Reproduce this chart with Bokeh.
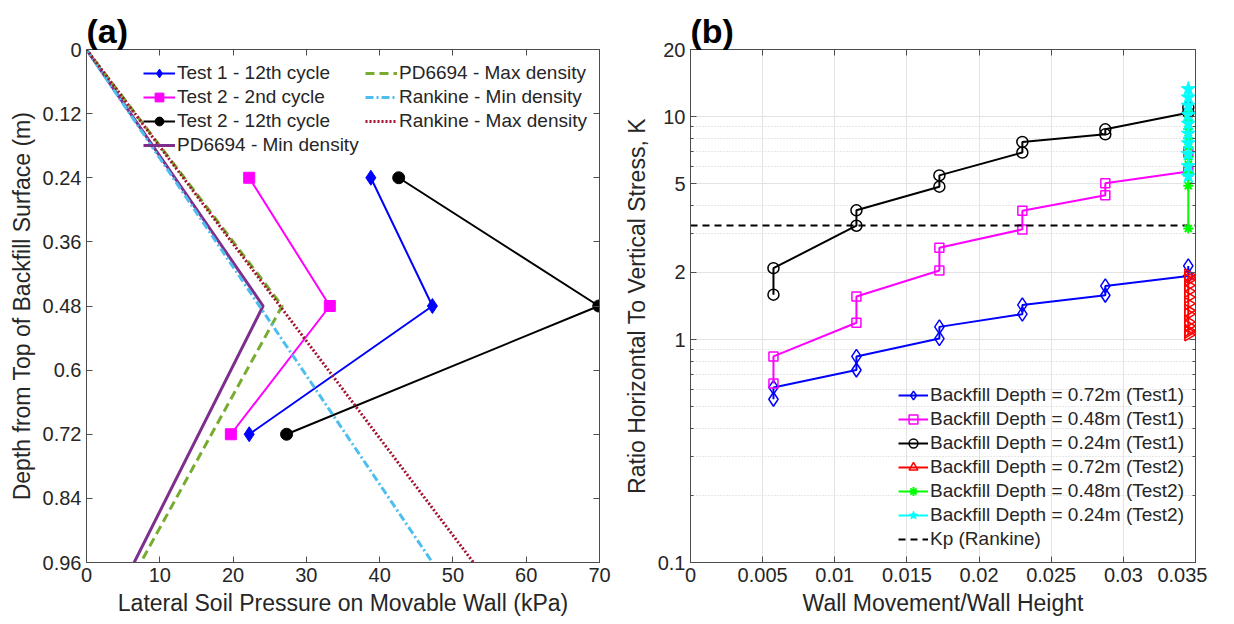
import numpy as np
from bokeh.plotting import figure
from bokeh.models import (Range1d, FixedTicker, PrintfTickFormatter, LinearAxis,
                          LogAxis, Legend, LegendItem)
from bokeh.layouts import row
from bokeh.embed import file_html
from bokeh.resources import INLINE

FONT = "Liberation Sans"
TXT = "#262626"
AX = "#4d4d4d"

# ---------------- Panel (a) data ----------------
depth_tests = [0.24, 0.48, 0.72]
t1_c12 = [38.8, 47.2, 22.2]
t2_c2 = [22.2, 33.2, 19.7]
t2_c12 = [42.6, 69.9, 27.3]
pd_depth = [0.0, 0.48, 0.96]
pd_min = [0.0, 24.1, 6.5]
pd_max = [0.0, 26.7, 7.4]
rk_depth = [0.0, 0.96]
rk_min = [0.0, 47.2]
rk_max = [0.0, 52.8]
a_xticks = [0, 10, 20, 30, 40, 50, 60, 70]
a_yticks = [0, 0.12, 0.24, 0.36, 0.48, 0.6, 0.72, 0.84, 0.96]

# ---------------- Panel (b) data ----------------
disp = [0.00575, 0.0115, 0.01725, 0.023, 0.02875, 0.0345]
step_x = [d for d in disp for _ in range(2)]
k_072_t1 = [0.54, 0.61, 0.73, 0.84, 1.01, 1.14, 1.30, 1.43, 1.58, 1.74, 1.93, 2.14]
k_048_t1 = [0.635, 0.84, 1.19, 1.56, 2.04, 2.58, 3.12, 3.78, 4.44, 5.02, 5.67, 6.9]
k_024_t1 = [1.59, 2.09, 3.24, 3.80, 4.85, 5.45, 6.90, 7.70, 8.33, 8.77, 10.4, 11.0]
k_072_t2 = [1.95, 1.05, 1.85, 1.10, 1.75, 1.15, 1.65, 1.20, 1.55, 1.30, 1.45, 1.35, 1.90, 1.08]
k_048_t2 = [3.15, 4.9, 5.6, 6.1, 6.6, 7.3, 8.0, 8.8, 9.6, 10.3]
k_024_t2 = [5.4, 6.0, 6.8, 7.6, 8.4, 9.3, 10.2, 11.2, 12.2, 13.3]
kp_x = [0.0, 0.035]
kp_k = [3.25, 3.25]
b_xticks = [0, 0.005, 0.01, 0.015, 0.02, 0.025, 0.03, 0.035]
b_yticks = [0.1, 1, 2, 5, 10, 20]
b_yminor = [0.2, 0.3, 0.4, 0.5, 0.6, 0.7, 0.8, 0.9, 3, 4, 6, 7, 8, 9]


def style_axis(ax):
    ax.major_label_text_font = FONT
    ax.major_label_text_font_size = "20px"
    ax.major_label_text_color = TXT
    ax.axis_label_text_font = FONT
    ax.axis_label_text_font_size = "23px"
    ax.axis_label_text_font_style = "normal"
    ax.axis_label_text_color = TXT
    ax.axis_line_color = AX
    ax.major_tick_line_color = AX
    ax.minor_tick_line_color = AX
    ax.major_tick_in = 6
    ax.major_tick_out = 0
    ax.minor_tick_in = 3
    ax.minor_tick_out = 0
    ax.major_label_standoff = 5
    ax.axis_label_standoff = 5


def hide_labels(ax):
    ax.major_label_text_font_size = "1px"
    ax.major_label_text_color = None
    ax.major_label_text_alpha = 0
    ax.major_label_standoff = 0


def style_legend(leg, glyph_w):
    leg.label_text_font = FONT
    leg.label_text_font_size = "19px"
    leg.label_text_color = TXT
    leg.glyph_width = glyph_w
    leg.glyph_height = 22
    leg.label_height = 22
    leg.label_standoff = 2
    leg.spacing = 2
    leg.padding = 0
    leg.margin = 0
    leg.background_fill_alpha = 0
    leg.border_line_alpha = 0


def style_title(p, txt):
    p.title.text = txt
    p.title.text_font = FONT
    p.title.text_font_size = "34px"
    p.title.text_font_style = "bold"
    p.title.text_color = "#000000"
    p.title.align = "left"
    p.title.standoff = 0


# ================= Figure (a) =================
p1 = figure(frame_width=513, frame_height=513, x_range=Range1d(0, 70),
            y_range=Range1d(0.96, 0), output_backend="svg", toolbar_location=None,
            min_border_left=86, min_border_right=12, min_border_top=49,
            min_border_bottom=20)
p1.xgrid.visible = False
p1.ygrid.visible = False
p1.outline_line_color = AX
style_title(p1, "(a)")

p1.xaxis.ticker = FixedTicker(ticks=a_xticks)
p1.yaxis.ticker = FixedTicker(ticks=a_yticks)
p1.xaxis.formatter = PrintfTickFormatter(format="%g")
p1.yaxis.formatter = PrintfTickFormatter(format="%g")
p1.xaxis.axis_label = "Lateral Soil Pressure on Movable Wall (kPa)"
p1.yaxis.axis_label = "Depth from Top of Backfill Surface (m)"
for ax in p1.xaxis + p1.yaxis:
    style_axis(ax)

top1 = LinearAxis(ticker=FixedTicker(ticks=a_xticks))
right1 = LinearAxis(ticker=FixedTicker(ticks=a_yticks))
for ax in (top1, right1):
    style_axis(ax)
    hide_labels(ax)
p1.add_layout(top1, "above")
p1.add_layout(right1, "right")

l_a1 = p1.line(t1_c12, depth_tests, line_color="#0000ff", line_width=2)
s_a1 = p1.scatter(t1_c12, depth_tests, marker="diamond", size=15,
                  fill_color="#0000ff", line_color="#0000ff")
l_a2 = p1.line(t2_c2, depth_tests, line_color="#ff00ff", line_width=2)
s_a2 = p1.scatter(t2_c2, depth_tests, marker="square", size=11,
                  fill_color="#ff00ff", line_color="#ff00ff")
l_a3 = p1.line(t2_c12, depth_tests, line_color="#000000", line_width=2)
s_a3 = p1.scatter(t2_c12, depth_tests, marker="circle", size=12,
                  fill_color="#000000", line_color="#000000")
l_pmin = p1.line(pd_min, pd_depth, line_color="#7e2f8e", line_width=3)
l_pmax = p1.line(pd_max, pd_depth, line_color="#77ac30", line_width=3,
                 line_dash="9 5")
l_rmin = p1.line(rk_min, rk_depth, line_color="#4dbeee", line_width=3,
                 line_dash="8 3 2 3")
l_rmax = p1.line(rk_max, rk_depth, line_color="#a2142f", line_width=3,
                 line_dash="2 2")

leg_a1 = Legend(items=[
    LegendItem(label="Test 1 - 12th cycle", renderers=[l_a1, s_a1]),
    LegendItem(label="Test 2 - 2nd cycle", renderers=[l_a2, s_a2]),
    LegendItem(label="Test 2 - 12th cycle", renderers=[l_a3, s_a3]),
    LegendItem(label="PD6694 - Min density", renderers=[l_pmin]),
], location=(57, 406))
leg_a2 = Legend(items=[
    LegendItem(label="PD6694 - Max density", renderers=[l_pmax]),
    LegendItem(label="Rankine - Min density", renderers=[l_rmin]),
    LegendItem(label="Rankine - Max density", renderers=[l_rmax]),
], location=(279, 430))
style_legend(leg_a1, 32)
style_legend(leg_a2, 32)
p1.add_layout(leg_a1)
p1.add_layout(leg_a2)

# ================= Figure (b) =================
p2 = figure(frame_width=505, frame_height=513, x_range=Range1d(0, 0.035),
            y_range=Range1d(0.1, 20), y_axis_type="log", output_backend="svg",
            toolbar_location=None, min_border_left=79, min_border_right=12,
            min_border_top=47, min_border_bottom=20)
p2.outline_line_color = AX
style_title(p2, "(b)")

p2.xaxis.ticker = FixedTicker(ticks=b_xticks)
p2.yaxis.ticker = FixedTicker(ticks=b_yticks, minor_ticks=b_yminor)
p2.xaxis.formatter = PrintfTickFormatter(format="%g")
p2.yaxis.formatter = PrintfTickFormatter(format="%g")
p2.xaxis.axis_label = "Wall Movement/Wall Height"
p2.yaxis.axis_label = "Ratio Horizontal To Vertical Stress, K"
for ax in p2.xaxis + p2.yaxis:
    style_axis(ax)

p2.xgrid.grid_line_color = "#e3e3e3"
p2.ygrid.grid_line_color = "#e3e3e3"
p2.ygrid.minor_grid_line_color = "#cfcfcf"
p2.ygrid.minor_grid_line_dash = "1 2"

top2 = LinearAxis(ticker=FixedTicker(ticks=b_xticks))
right2 = LogAxis(ticker=FixedTicker(ticks=b_yticks, minor_ticks=b_yminor))
for ax in (top2, right2):
    style_axis(ax)
    hide_labels(ax)
p2.add_layout(top2, "above")
p2.add_layout(right2, "right")

l_b1 = p2.line(step_x, k_072_t1, line_color="#0000ff", line_width=2)
s_b1 = p2.scatter(step_x, k_072_t1, marker="diamond", size=14,
                  fill_color=None, line_color="#0000ff", line_width=1.5)
l_b2 = p2.line(step_x, k_048_t1, line_color="#ff00ff", line_width=2)
s_b2 = p2.scatter(step_x, k_048_t1, marker="square", size=9,
                  fill_color=None, line_color="#ff00ff", line_width=1.5)
l_b3 = p2.line(step_x, k_024_t1, line_color="#000000", line_width=2)
s_b3 = p2.scatter(step_x, k_024_t1, marker="circle", size=11,
                  fill_color=None, line_color="#000000", line_width=1.5)
l_kp = p2.line(kp_x, kp_k, line_color="#000000", line_width=2, line_dash="7 5")

x072 = [disp[-1]] * len(k_072_t2)
x048 = [disp[-1]] * len(k_048_t2)
x024 = [disp[-1]] * len(k_024_t2)
l_b4 = p2.line(x072, k_072_t2, line_color="#ff0000", line_width=2)
s_b4 = p2.scatter(x072, k_072_t2, marker="triangle", size=12, angle=-np.pi / 2,
                  fill_color=None, line_color="#ff0000", line_width=1.5)
l_b5 = p2.line(x048, k_048_t2, line_color="#00ff00", line_width=2)
s_b5 = p2.scatter(x048, k_048_t2, marker="asterisk", size=10,
                  line_color="#00ff00", line_width=2)
l_b6 = p2.line(x024, k_024_t2, line_color="#00ffff", line_width=2)
s_b6 = p2.scatter(x024, k_024_t2, marker="star", size=15,
                  fill_color="#00ffff", line_color="#00ffff")

leg_b = Legend(items=[
    LegendItem(label="Backfill Depth = 0.72m (Test1)", renderers=[l_b1, s_b1]),
    LegendItem(label="Backfill Depth = 0.48m (Test1)", renderers=[l_b2, s_b2]),
    LegendItem(label="Backfill Depth = 0.24m (Test1)", renderers=[l_b3, s_b3]),
    LegendItem(label="Backfill Depth = 0.72m (Test2)", renderers=[l_b4, s_b4]),
    LegendItem(label="Backfill Depth = 0.48m (Test2)", renderers=[l_b5, s_b5]),
    LegendItem(label="Backfill Depth = 0.24m (Test2)", renderers=[l_b6, s_b6]),
    LegendItem(label="Kp (Rankine)", renderers=[l_kp]),
], location=(208, 12))
style_legend(leg_b, 30)
p2.add_layout(leg_b)

layout = row(p1, p2)
open("out.html", "w").write(file_html(layout, INLINE))
